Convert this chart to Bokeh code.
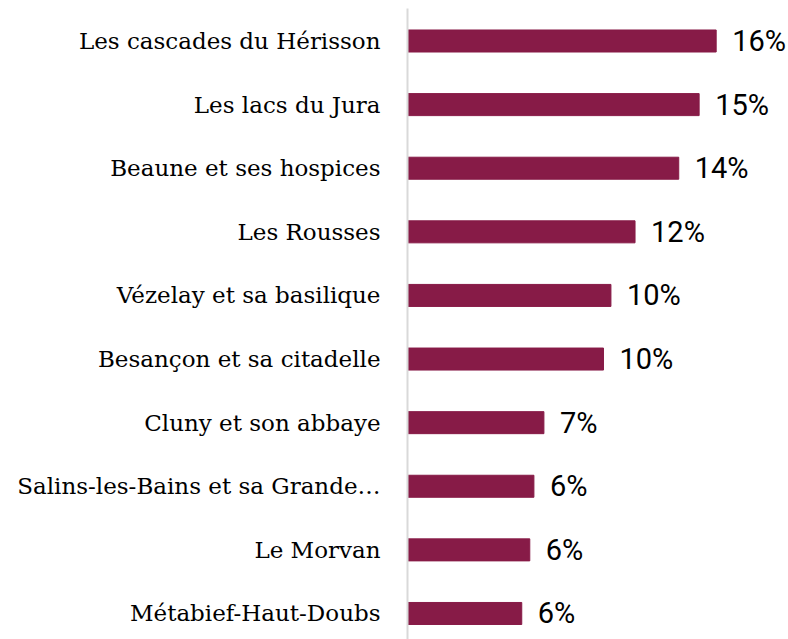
from bokeh.plotting import figure
from bokeh.models import Range1d, FixedTicker, ColumnDataSource
from bokeh.embed import file_html
from bokeh.resources import INLINE
from bokeh.core.properties import value

categories = [
    "Les cascades du Hérisson",
    "Les lacs du Jura",
    "Beaune et ses hospices",
    "Les Rousses",
    "Vézelay et sa basilique",
    "Besançon et sa citadelle",
    "Cluny et son abbaye",
    "Salins-les-Bains et sa Grande…",
    "Le Morvan",
    "Métabief-Haut-Doubs",
]
values = [15.75, 14.88, 13.84, 11.61, 10.38, 10.0, 6.96, 6.45, 6.24, 5.83]
value_labels = ["16%", "15%", "14%", "12%", "10%", "10%", "7%", "6%", "6%", "6%"]

n = len(categories)
positions = [n - 1 - i for i in range(n)]

src = ColumnDataSource(dict(y=positions, v=values, lab=value_labels, cat=categories))

p = figure(width=788, height=639, output_backend="svg", toolbar_location=None,
           x_range=Range1d(0, 19.44), y_range=Range1d(-0.409, n - 1 + 0.511),
           min_border_left=407, min_border_right=0, min_border_top=8, min_border_bottom=0)
p.outline_line_color = None
p.background_fill_color = "white"
p.border_fill_color = "white"
p.grid.visible = False
p.xaxis.visible = False

p.hbar(y="y", right="v", left=0, height=0.346, source=src, color="#871B47")
p.text(x="v", y="y", text="lab", source=src, x_offset=16, text_baseline="middle",
       text_align="left", text_font=value("Roboto"), text_font_size="29px", text_color="black")

ya = p.yaxis[0]
ya.ticker = FixedTicker(ticks=positions)
ya.major_label_overrides = {pos: cat for pos, cat in zip(positions, categories)}
ya.major_tick_line_color = None
ya.minor_tick_line_color = None
ya.major_tick_out = 0
ya.major_tick_in = 0
ya.axis_line_color = "#d9d9d9"
ya.axis_line_width = 2
ya.major_label_standoff = 27
ya.major_label_text_font = "DejaVu Serif"
ya.major_label_text_font_size = "23px"
ya.major_label_text_color = "black"

open("out.html", "w").write(file_html(p, INLINE))
